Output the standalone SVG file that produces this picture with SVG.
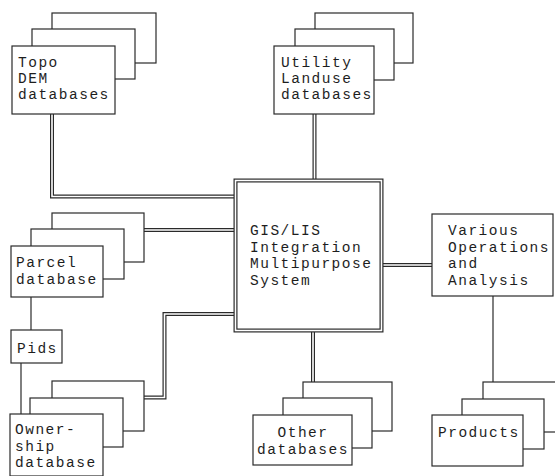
<svg xmlns="http://www.w3.org/2000/svg" width="555" height="476" viewBox="0 0 555 476">
<style>
.bx{fill:#fff;stroke:#2a2a2a;stroke-width:1.2}
.t{font-family:"Liberation Mono","Courier New",monospace;font-size:14.5px;letter-spacing:1.5px;fill:#1e1e1e}
.dO{fill:none;stroke:#2a2a2a;stroke-width:4;stroke-linejoin:miter}
.dI{fill:none;stroke:#fff;stroke-width:1.6;stroke-linejoin:miter}
.s{fill:none;stroke:#2a2a2a;stroke-width:1.2}
</style>
<rect width="555" height="476" fill="#fff"/>
<g id="connectors">
<path class="dO" d="M52,114 V196.5 H236"/>
<path class="dI" d="M52,114 V196.5 H236"/>
<path class="dO" d="M314.5,114 V181"/>
<path class="dI" d="M314.5,114 V181"/>
<path class="dO" d="M144,230 H236"/>
<path class="dI" d="M144,230 H236"/>
<path class="dO" d="M144,397.5 H164.5 V314 H236"/>
<path class="dI" d="M144,397.5 H164.5 V314 H236"/>
<path class="dO" d="M381,265 H432"/>
<path class="dI" d="M381,265 H432"/>
<path class="dO" d="M313,330 V382"/>
<path class="dI" d="M313,330 V382"/>
<path class="s" d="M493,296 V382"/>
<path class="s" d="M31,297 V330"/>
<path class="s" d="M21,363 V414"/>
</g>
<g id="topo">
<rect class="bx" x="52" y="13" width="104" height="50"/>
<rect class="bx" x="32" y="29" width="103" height="50"/>
<rect class="bx" x="12" y="46" width="103" height="68"/>
<text class="t" x="18" y="67">Topo</text>
<text class="t" x="18" y="83">DEM</text>
<text class="t" x="18" y="99">databases</text>
</g>
<g id="utility">
<rect class="bx" x="315" y="13" width="98" height="50"/>
<rect class="bx" x="295" y="29" width="99" height="51"/>
<rect class="bx" x="274" y="46" width="100" height="68"/>
<text class="t" x="281" y="67">Utility</text>
<text class="t" x="281" y="83">Landuse</text>
<text class="t" x="281" y="99">databases</text>
</g>
<g id="center">
<rect x="235.5" y="180.5" width="146" height="150" fill="#fff" stroke="#2a2a2a" stroke-width="4"/>
<rect x="235.5" y="180.5" width="146" height="150" fill="none" stroke="#fff" stroke-width="1.6"/>
<text class="t" x="250" y="235">GIS/LIS</text>
<text class="t" x="250" y="251.5">Integration</text>
<text class="t" x="250" y="268">Multipurpose</text>
<text class="t" x="250" y="284.5">System</text>
</g>
<g id="various">
<rect class="bx" x="432" y="214" width="121" height="82"/>
<text class="t" x="448" y="235">Various</text>
<text class="t" x="448" y="251.5">Operations</text>
<text class="t" x="448" y="268">and</text>
<text class="t" x="448" y="284.5">Analysis</text>
</g>
<g id="parcel">
<rect class="bx" x="52" y="213" width="92" height="49"/>
<rect class="bx" x="31" y="229" width="93" height="50"/>
<rect class="bx" x="11" y="246" width="92" height="51"/>
<text class="t" x="16" y="267">Parcel</text>
<text class="t" x="16" y="284">database</text>
</g>
<g id="pids">
<rect class="bx" x="11" y="330" width="51" height="33"/>
<text class="t" x="17" y="353">Pids</text>
</g>
<g id="ownership">
<rect class="bx" x="52" y="381" width="92" height="50"/>
<rect class="bx" x="30" y="398" width="93" height="49"/>
<rect class="bx" x="10" y="414" width="93" height="62"/>
<text class="t" x="15" y="434">Owner-</text>
<text class="t" x="15" y="450.5">ship</text>
<text class="t" x="15" y="467">database</text>
</g>
<g id="other">
<rect class="bx" x="303" y="382" width="89" height="49"/>
<rect class="bx" x="283" y="398" width="89" height="50"/>
<rect class="bx" x="253" y="415" width="99" height="50"/>
<text class="t" x="303" y="437" text-anchor="middle">Other</text>
<text class="t" x="303" y="453.5" text-anchor="middle">databases</text>
</g>
<g id="products">
<rect class="bx" x="483" y="382" width="80" height="50"/>
<rect class="bx" x="462" y="399" width="82" height="50"/>
<rect class="bx" x="432" y="415" width="91" height="51"/>
<text class="t" x="438" y="437">Products</text>
</g>
</svg>
